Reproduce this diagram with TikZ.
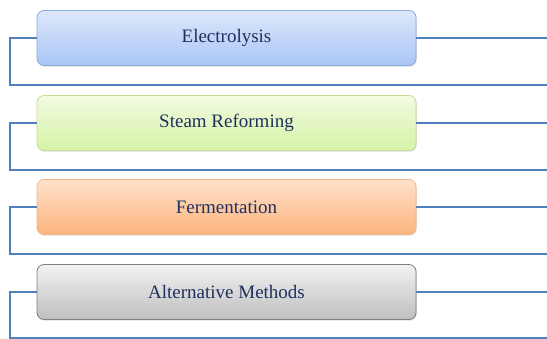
\documentclass[tikz,border=0pt]{standalone}
\usepackage{fontspec}
\setmainfont{Liberation Serif}
\usetikzlibrary{shadows}
\definecolor{linec}{HTML}{4F81BD}
\definecolor{txtc}{HTML}{1F2F5E}
\definecolor{blueT}{HTML}{DEE8FB}
\definecolor{blueB}{HTML}{A9C5F5}
\definecolor{blueD}{HTML}{8AA9DC}
\definecolor{greenT}{HTML}{F2FBE1}
\definecolor{greenB}{HTML}{D6F3A6}
\definecolor{greenD}{HTML}{C2DE98}
\definecolor{orangeT}{HTML}{FFE1CB}
\definecolor{orangeB}{HTML}{FBB47C}
\definecolor{orangeD}{HTML}{F3B586}
\definecolor{grayT}{HTML}{F2F2F2}
\definecolor{grayB}{HTML}{BFBFBF}
\definecolor{grayD}{HTML}{7F7F7F}
\tikzset{
  x=1pt,y=-1pt,
  conn/.style={draw=linec,line width=1.2pt},
  boxbase/.style={rounded corners=7pt,minimum width=379pt,minimum height=55pt,
    line width=0.8pt,font=\fontsize{19}{22}\selectfont,text=txtc,inner sep=0pt,
    drop shadow={shadow xshift=0.8pt,shadow yshift=-1.2pt,opacity=0.25}},
  bluebox/.style={boxbase,top color=blueT,bottom color=blueB,draw=blueD},
  greenbox/.style={boxbase,top color=greenT,bottom color=greenB,draw=greenD},
  orangebox/.style={boxbase,top color=orangeT,bottom color=orangeB,draw=orangeD},
  graybox/.style={boxbase,top color=grayT,bottom color=grayB,draw=grayD},
}
\begin{document}
\begin{tikzpicture}
\useasboundingbox (0,0) rectangle (547,339);
\coordinate (l1) at (10,38);  \coordinate (b1) at (10,85);  \coordinate (r1) at (547,38);  \coordinate (e1) at (547,85);
\coordinate (l2) at (10,123); \coordinate (b2) at (10,170); \coordinate (r2) at (547,123); \coordinate (e2) at (547,170);
\coordinate (l3) at (10,207); \coordinate (b3) at (10,254); \coordinate (r3) at (547,207); \coordinate (e3) at (547,254);
\coordinate (l4) at (10,292); \coordinate (b4) at (10,338); \coordinate (r4) at (547,292); \coordinate (e4) at (547,338);

\node[bluebox]   (n1) at (226.5,38)  {Electrolysis};
\node[greenbox]  (n2) at (226.5,123) {Steam Reforming};
\node[orangebox] (n3) at (226.5,207) {Fermentation};
\node[graybox]   (n4) at (226.5,292) {Alternative Methods};

\foreach \i in {1,2,3,4}{
  \draw[conn] (n\i.west) -- (l\i) -- (b\i) -- (e\i);
  \draw[conn] (n\i.east) -- (r\i);
}
\end{tikzpicture}
\end{document}
